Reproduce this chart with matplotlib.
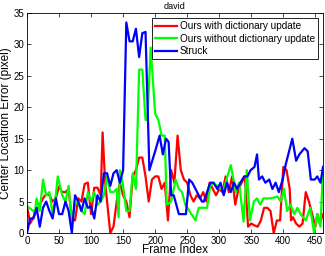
import matplotlib
matplotlib.use("Agg")
import matplotlib.pyplot as plt

plt.rcParams['font.family'] = ['Liberation Sans', 'DejaVu Sans']

red_x = [0, 5, 10, 15, 20, 25, 30, 35, 40, 45,
         50, 55, 60, 65, 70, 75, 80, 85, 90, 95,
         100, 105, 110, 115, 118, 122, 125, 130, 135, 140,
         145, 150, 155, 160, 165, 170, 175, 180, 185, 190,
         195, 200, 205, 210, 215, 220, 225, 230, 235, 240,
         245, 250, 255, 260, 265, 270, 275, 280, 285, 290,
         295, 300, 305, 310, 315, 320, 325, 330, 335, 340,
         345, 350, 355, 360, 365, 370, 375, 380, 385, 390,
         395, 400, 405, 410, 412, 415, 420, 425, 430, 435,
         440, 445, 450, 453, 457, 462]
red_y = [4.3, 1.5, 2.5, 3.5, 4.5, 5.5, 6.2, 6.0, 5.0, 5.5,
         7.4, 6.5, 6.5, 7.0, 2.0, 2.0, 5.5, 5.0, 7.8, 8.0,
         3.0, 7.2, 7.2, 6.0, 16.0, 8.0, 5.0, 0.0, 1.0, 5.0,
         8.0, 6.0, 5.0, 2.5, 9.0, 10.0, 12.0, 12.0, 9.0, 5.0,
         8.5, 9.0, 9.0, 7.0, 8.0, 2.0, 10.0, 8.0, 15.5, 10.0,
         8.5, 8.0, 6.0, 5.0, 6.0, 5.5, 6.5, 5.0, 8.0, 7.0,
         6.0, 7.0, 6.5, 9.0, 6.5, 9.0, 4.5, 7.0, 8.0, 9.0,
         1.0, 1.5, 1.2, 1.0, 2.0, 4.0, 4.0, 3.5, 0.0, 2.0,
         2.0, 10.5, 10.0, 7.0, 2.0, 2.5, 1.5, 1.0, 1.5, 6.5,
         5.0, 3.0, 1.0, 3.0, 1.5, 3.0]

green_x = [0, 10, 12, 15, 20, 25, 30, 35, 40, 45,
           48, 55, 60, 65, 70, 75, 80, 85, 90, 95,
           100, 105, 110, 115, 120, 125, 130, 135, 140, 143,
           145, 150, 155, 160, 165, 170, 175, 180, 185, 188,
           193, 200, 205, 210, 215, 218, 225, 232, 237, 242,
           247, 263, 268, 276, 281, 286, 291, 302, 307, 318,
           326, 331, 338, 343, 348, 354, 359, 364, 369, 380,
           391, 396, 401, 406, 411, 417, 422, 427, 435, 442,
           448, 453, 458, 462]
green_y = [4.3, 3.5, 3.0, 5.5, 3.5, 8.5, 6.0, 6.5, 3.0, 6.0,
           9.0, 6.0, 5.0, 7.5, 2.0, 4.5, 5.0, 3.5, 3.0, 6.5,
           5.0, 6.5, 4.5, 5.0, 6.0, 9.0, 6.5, 6.5, 7.0, 2.5,
           10.0, 7.5, 3.5, 3.5, 9.5, 7.0, 26.0, 26.0, 18.0, 18.0,
           29.5, 19.0, 18.0, 15.5, 15.5, 4.5, 5.0, 8.5, 7.0, 6.5,
           4.5, 2.0, 4.0, 4.0, 4.0, 7.5, 8.0, 7.0, 7.0, 10.8,
           6.5, 8.0, 1.8, 10.0, 2.0, 5.0, 5.5, 4.5, 5.5, 5.5,
           5.8, 5.0, 7.0, 3.5, 4.5, 3.0, 4.0, 3.0, 2.0, 4.0,
           0.0, 3.0, 1.0, 10.5]

blue_x = [0, 5, 10, 15, 20, 25, 30, 35, 40, 45,
          50, 55, 60, 65, 70, 75, 80, 85, 90, 95,
          100, 105, 110, 115, 120, 125, 130, 135, 140, 145,
          150, 155, 160, 165, 170, 175, 180, 185, 191, 200,
          207, 212, 217, 221, 225, 229, 237, 245, 248, 253,
          258, 263, 268, 273, 276, 281, 286, 291, 297, 302,
          307, 312, 318, 323, 328, 333, 339, 344, 349, 355,
          359, 362, 367, 372, 378, 383, 388, 393, 399, 404,
          409, 414, 420, 425, 433, 438, 443, 449, 453, 458,
          462]
blue_y = [0.0, 2.3, 2.3, 4.0, 1.0, 4.0, 5.0, 3.5, 2.3, 5.5,
          3.0, 3.0, 5.0, 3.5, 0.0, 6.0, 5.0, 3.5, 5.5, 4.0,
          4.2, 2.3, 6.0, 5.0, 9.5, 9.5, 7.5, 9.5, 10.0, 8.0,
          10.0, 33.5, 30.5, 30.5, 32.5, 28.0, 31.8, 32.0, 10.0, 13.0,
          15.5, 12.5, 15.0, 14.5, 6.0, 6.0, 3.0, 3.0, 3.0, 8.5,
          8.0, 7.0, 6.0, 5.0, 5.0, 6.5, 8.0, 8.0, 7.0, 8.0,
          6.0, 8.0, 6.5, 8.0, 7.0, 8.0, 9.0, 9.0, 10.0, 10.5,
          12.5, 8.5, 9.0, 8.0, 8.5, 7.0, 8.0, 6.5, 8.5, 11.0,
          13.0, 15.0, 11.5, 12.5, 13.5, 13.0, 8.5, 8.5, 9.0, 8.0,
          10.5]

labels = ['Ours with dictionary update', 'Ours without dictionary update', 'Struck']
colors = ['#ff0000', '#00ff00', '#0000ff']

fig = plt.figure(figsize=(3.25, 2.56), dpi=100)
ax = fig.add_axes([0.083, 0.09, 0.911, 0.859])
for xs, ys, lab, c in zip([red_x, green_x, blue_x], [red_y, green_y, blue_y], labels, colors):
    ax.plot(xs, ys, color=c, lw=1.6, label=lab)

ax.set_xlim(0, 462)
ax.set_ylim(0, 35)
ax.set_xticks(range(0, 451, 50))
ax.set_yticks(range(0, 36, 5))
ax.tick_params(direction='in', top=True, right=True, labelsize=7, length=3, width=0.5, pad=2)
for s in ax.spines.values():
    s.set_linewidth(0.6)
ax.set_title('david', fontsize=6.5, pad=3)
ax.set_xlabel('Frame Index', fontsize=8.5, labelpad=-1)
ax.set_ylabel('Center Locatrion Error (pixel)', fontsize=8.5, labelpad=1)
leg = ax.legend(loc='upper right', fontsize=7.2, frameon=True, fancybox=False,
                edgecolor='black', framealpha=1, handlelength=2.2, handletextpad=0.3,
                borderpad=0.3, labelspacing=0.25, borderaxespad=0.5)
leg.get_frame().set_linewidth(0.6)
fig.savefig('out.png', dpi=100)
